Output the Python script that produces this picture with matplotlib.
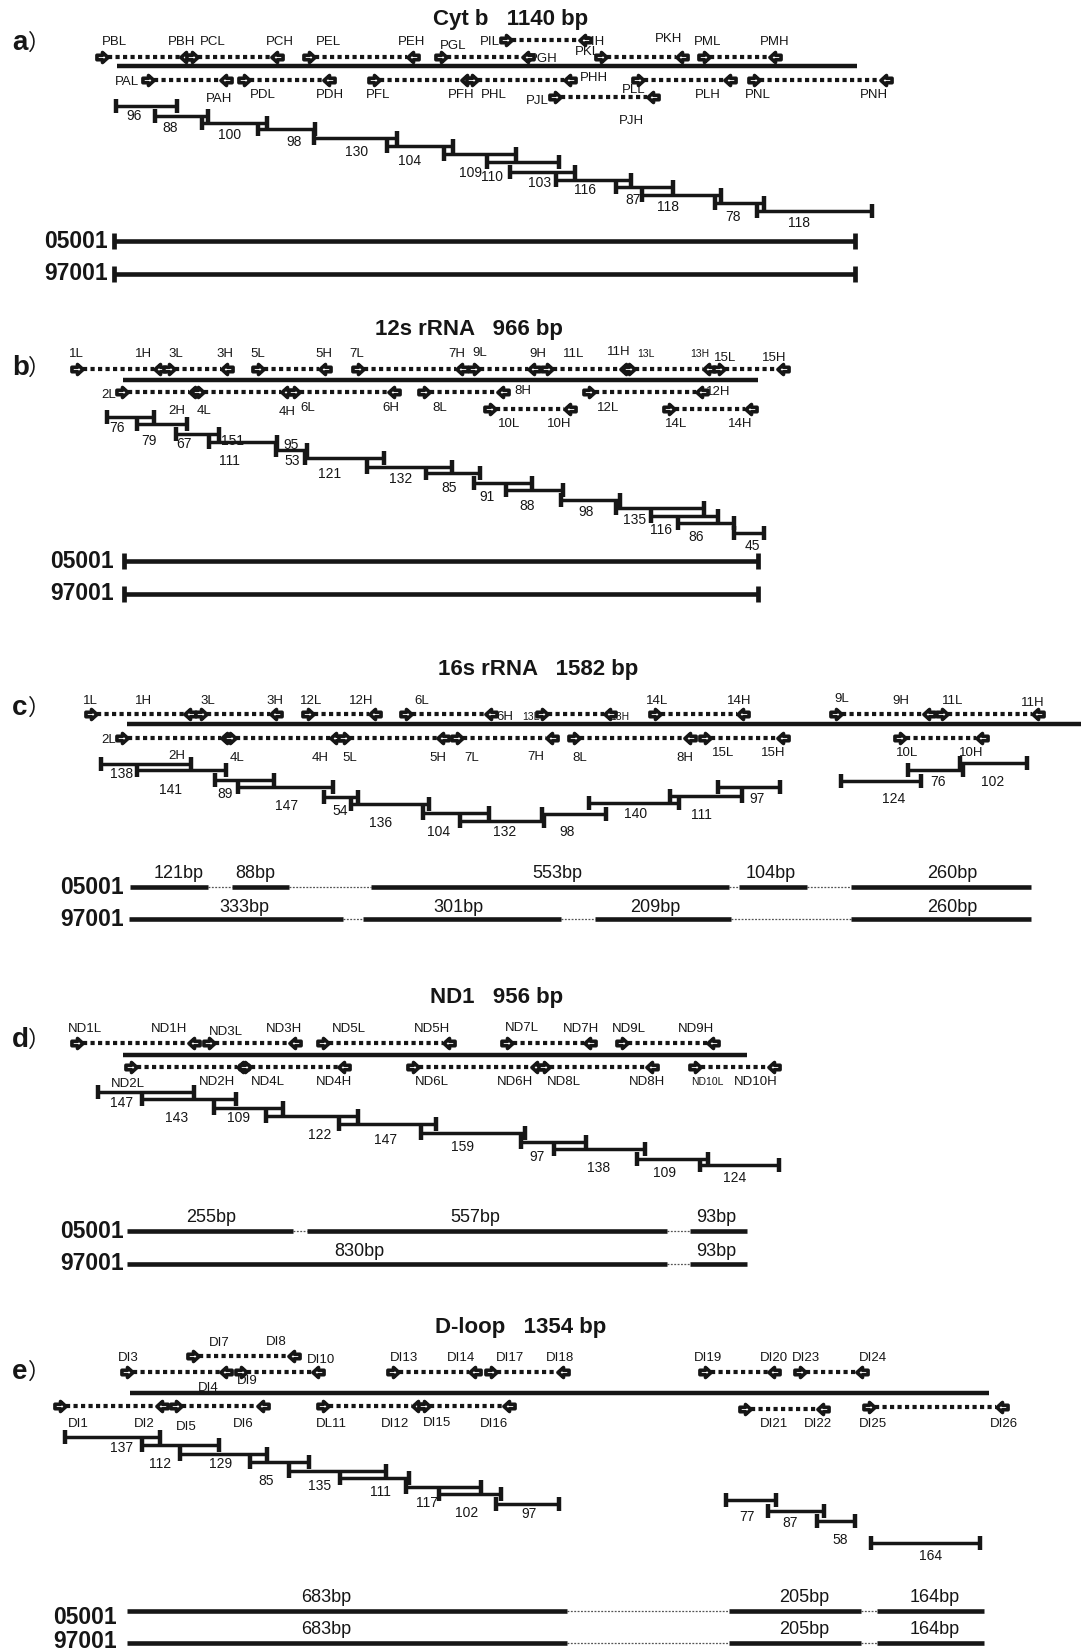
import matplotlib.pyplot as plt
from matplotlib.path import Path

plt.rcParams['font.family'] = ['Liberation Sans', 'DejaVu Sans']

W, H = 1081, 1652

# ---------------- panel a : Cyt b ----------------
a_title = ("Cyt b   1140 bp", 511, 20)
a_gene = (117, 857, 66)
# forward primer x, reverse primer x, row y
a_primers = [(102, 186, 57), (192, 277, 57), (309, 413, 57), (441, 528, 57),
             (601, 682, 57), (704, 775, 57), (506, 585, 40),
             (148, 226, 80), (244, 329, 80), (374, 467, 80), (472, 570, 80),
             (638, 730, 80), (754, 886, 80), (555, 653, 97)]
a_names = [("PBL", 102, 42), ("PBH", 168, 42), ("PCL", 200, 42), ("PCH", 266, 42),
           ("PEL", 316, 42), ("PEH", 398, 42), ("PGL", 440, 46), ("PGH", 529, 59),
           ("PKL", 575, 52), ("PKH", 655, 39), ("PML", 694, 42), ("PMH", 760, 42),
           ("PIL", 480, 42), ("PIH", 583, 42), ("PAL", 115, 82), ("PAH", 206, 99),
           ("PDL", 250, 95), ("PDH", 316, 95), ("PFL", 366, 95), ("PFH", 448, 95),
           ("PHL", 481, 95), ("PHH", 580, 78), ("PLL", 622, 90), ("PLH", 695, 95),
           ("PNL", 745, 95), ("PNH", 860, 95), ("PJL", 526, 101), ("PJH", 619, 121)]
# fragment start, end, y, size label, label x, label y
a_frags = [(116, 177, 106, "96", 134, 116), (155, 208, 116, "88", 170, 128),
           (202, 267, 123, "100", 230, 135), (258, 315, 129, "98", 294, 142),
           (314, 397, 138, "130", 357, 152), (387, 453, 146, "104", 410, 161),
           (444, 516, 154, "109", 470, 173), (487, 559, 162, "110", 492, 177),
           (510, 575, 172, "103", 540, 183), (556, 631, 180, "116", 585, 190),
           (616, 673, 187, "87", 633, 200), (642, 721, 195, "118", 668, 207),
           (715, 764, 203, "78", 733, 217), (757, 872, 211, "118", 799, 223)]
a_extra = []
a_samples = [("05001", 241, 241, [(114, 855)], [], 0),
             ("97001", 274, 274, [(114, 855)], [], 0)]

# ---------------- panel b : 12s rRNA ----------------
b_title = ("12s rRNA   966 bp", 469, 329)
b_gene = (123, 758, 380)
b_primers = [(77, 160, 369), (169, 227, 369), (258, 325, 369), (358, 462, 369),
             (474, 534, 369), (547, 626, 369), (629, 709, 369), (719, 783, 369),
             (122, 195, 392), (198, 287, 392), (294, 394, 392), (424, 503, 392),
             (589, 702, 392), (490, 570, 409), (669, 751, 409)]
b_names = [("1L", 69, 354), ("1H", 135, 354), ("3L", 168, 354), ("3H", 216, 354),
           ("5L", 250, 354), ("5H", 315, 354), ("7L", 349, 354), ("7H", 448, 354),
           ("9L", 472, 353), ("9H", 529, 354), ("11L", 563, 354), ("11H", 607, 352),
           ("13L", 637, 354), ("13H", 690, 354), ("15L", 714, 358), ("15H", 762, 358),
           ("2L", 101, 395), ("2H", 168, 411), ("4L", 197, 411), ("4H", 279, 412),
           ("6L", 300, 408), ("6H", 382, 408), ("8L", 432, 408), ("8H", 514, 391),
           ("12L", 597, 408), ("12H", 706, 392), ("10L", 498, 424), ("10H", 547, 424),
           ("14L", 665, 424), ("14H", 728, 424)]
b_frags = [(107, 154, 417, "76", 117, 428), (137, 187, 424, "79", 149, 441),
           (176, 219, 434, "67", 184, 444), (209, 277, 442, "151", 233, 441),
           (276, 307, 450, "53", 292, 461), (305, 384, 458, "121", 330, 474),
           (367, 452, 467, "132", 401, 479), (426, 480, 473, "85", 449, 488),
           (474, 532, 483, "91", 487, 497), (506, 563, 490, "88", 527, 506),
           (561, 620, 500, "98", 586, 512), (616, 704, 508, "135", 635, 520),
           (651, 718, 516, "116", 661, 530), (678, 734, 523, "86", 696, 537),
           (734, 764, 533, "45", 752, 546)]
b_extra = [("111", 229, 461), ("95", 291, 445)]
b_samples = [("05001", 561, 561, [(124, 758)], [], 0),
             ("97001", 594, 594, [(124, 758)], [], 0)]

# ---------------- panel c : 16s rRNA ----------------
c_title = ("16s rRNA   1582 bp", 538, 670)
c_gene = (127, 1081, 724)
c_primers = [(91, 190, 714), (201, 276, 714), (308, 375, 714), (406, 491, 714),
             (542, 610, 714), (655, 743, 714), (836, 929, 714), (942, 1038, 714),
             (122, 227, 738), (230, 336, 738), (344, 443, 738), (457, 552, 738),
             (574, 690, 738), (705, 783, 738), (900, 982, 738)]
c_names = [("1L", 83, 701), ("1H", 135, 701), ("3L", 200, 701), ("3H", 266, 701),
           ("12L", 300, 701), ("12H", 349, 701), ("6L", 414, 701), ("6H", 496, 717),
           ("13L", 522, 717), ("13H", 610, 717), ("14L", 646, 701), ("14H", 727, 701),
           ("9L", 834, 699), ("9H", 892, 701), ("11L", 942, 701), ("11H", 1021, 703),
           ("2L", 101, 740), ("2H", 168, 756), ("4L", 230, 758), ("4H", 312, 758),
           ("5L", 342, 758), ("5H", 429, 758), ("7L", 464, 758), ("7H", 527, 757),
           ("8L", 572, 758), ("8H", 676, 758), ("15L", 712, 753), ("15H", 761, 753),
           ("10L", 896, 753), ("10H", 959, 753)]
c_frags = [(101, 191, 764, "138", 122, 774), (137, 226, 770, "141", 171, 790),
           (215, 274, 780, "89", 225, 794), (238, 333, 787, "147", 287, 806),
           (324, 358, 797, "54", 340, 811), (351, 429, 804, "136", 381, 823),
           (423, 489, 813, "104", 439, 832), (460, 544, 821, "132", 505, 832),
           (542, 606, 814, "98", 567, 832), (589, 679, 803, "140", 636, 814),
           (670, 742, 796, "111", 701, 815), (718, 780, 787, "97", 757, 799),
           (841, 921, 781, "124", 894, 799), (908, 963, 770, "76", 938, 782),
           (960, 1027, 763, "102", 993, 782)]
c_extra = []
c_samples = [("05001", 887, 887,
              [(130, 208), (232, 289), (371, 729), (739, 807), (851, 1031)],
              [("121bp", 179), ("88bp", 255), ("553bp", 557), ("104bp", 771), ("260bp", 952)], 873),
             ("97001", 919, 919,
              [(129, 343), (363, 561), (595, 731), (851, 1031)],
              [("333bp", 244), ("301bp", 458), ("209bp", 655), ("260bp", 952)], 907)]

# ---------------- panel d : ND1 ----------------
d_title = ("ND1   956 bp", 497, 998)
d_gene = (123, 747, 1055)
d_primers = [(77, 194, 1043), (209, 295, 1043), (323, 449, 1043), (507, 590, 1043),
             (622, 713, 1043), (131, 243, 1067), (245, 344, 1067), (413, 537, 1067),
             (544, 652, 1067), (695, 774, 1067)]
d_names = [("ND1L", 68, 1029), ("ND1H", 151, 1029), ("ND3L", 209, 1032), ("ND3H", 266, 1029),
           ("ND5L", 332, 1029), ("ND5H", 414, 1029), ("ND7L", 505, 1028), ("ND7H", 563, 1029),
           ("ND9L", 612, 1029), ("ND9H", 678, 1029), ("ND2L", 111, 1084), ("ND2H", 199, 1082),
           ("ND4L", 251, 1082), ("ND4H", 316, 1082), ("ND6L", 415, 1082), ("ND6H", 497, 1082),
           ("ND8L", 547, 1082), ("ND8H", 629, 1082), ("ND10L", 691, 1082), ("ND10H", 734, 1082)]
d_frags = [(98, 194, 1092, "147", 122, 1103), (142, 236, 1099, "143", 177, 1118),
           (214, 283, 1108, "109", 238, 1118), (266, 358, 1116, "122", 320, 1135),
           (339, 436, 1124, "147", 386, 1140), (421, 525, 1133, "159", 463, 1147),
           (521, 586, 1142, "97", 537, 1157), (554, 645, 1149, "138", 599, 1168),
           (637, 708, 1159, "109", 665, 1173), (700, 779, 1165, "124", 735, 1178)]
d_extra = []
d_samples = [("05001", 1231, 1231, [(127, 293), (307, 667), (690, 747)],
              [("255bp", 211), ("557bp", 475), ("93bp", 716)], 1218),
             ("97001", 1264, 1264, [(127, 667), (690, 747)],
              [("830bp", 359), ("93bp", 716)], 1252)]

# ---------------- panel e : D-loop ----------------
e_title = ("D-loop   1354 bp", 521, 1328)
e_gene = (130, 989, 1393)
e_primers = [(127, 226, 1372), (193, 294, 1356), (241, 318, 1372), (393, 475, 1372),
             (491, 563, 1372), (705, 774, 1372), (800, 862, 1372),
             (60, 162, 1406), (176, 263, 1406), (323, 418, 1406), (424, 509, 1406),
             (745, 823, 1409), (869, 1002, 1407)]
e_names = [("DI3", 118, 1358), ("DI4", 198, 1388), ("DI7", 209, 1343), ("DI8", 266, 1342),
           ("DI9", 237, 1381), ("DI10", 307, 1360), ("DI13", 390, 1358), ("DI14", 447, 1358),
           ("DI17", 496, 1358), ("DI18", 546, 1358), ("DI19", 694, 1358), ("DI20", 760, 1358),
           ("DI23", 792, 1358), ("DI24", 859, 1358), ("DI1", 68, 1424), ("DI2", 134, 1424),
           ("DI5", 176, 1427), ("DI6", 233, 1424), ("DL11", 316, 1424), ("DI12", 381, 1424),
           ("DI15", 423, 1423), ("DI16", 480, 1424), ("DI21", 760, 1424), ("DI22", 804, 1424),
           ("DI25", 859, 1424), ("DI26", 990, 1424)]
e_frags = [(65, 160, 1437, "137", 122, 1448), (142, 219, 1445, "112", 160, 1464),
           (180, 267, 1454, "129", 221, 1464), (250, 309, 1462, "85", 266, 1481),
           (289, 386, 1471, "135", 320, 1486), (340, 409, 1478, "111", 380, 1492),
           (406, 481, 1487, "117", 427, 1503), (439, 501, 1494, "102", 467, 1513),
           (496, 559, 1504, "97", 529, 1514), (726, 776, 1500, "77", 747, 1517),
           (768, 824, 1511, "87", 790, 1523), (817, 855, 1521, "58", 840, 1540),
           (871, 980, 1543, "164", 931, 1556)]
e_extra = []
e_samples = [("05001", 1611, 1618, [(127, 567), (729, 861), (877, 984)],
              [("683bp", 326), ("205bp", 804), ("164bp", 935)], 1597),
             ("97001", 1643, 1642, [(127, 567), (729, 861), (877, 984)],
              [("683bp", 326), ("205bp", 804), ("164bp", 935)], 1630)]

panel_letters = [("a", 43), ("b", 368), ("c", 708), ("d", 1040), ("e", 1372)]
name_right = [108, 114, 124, 124, 117]
small_names = {"13L", "13H", "ND10L"}

INK = '#161616'

# arrow head markers for the primers
_codes = [Path.MOVETO] + [Path.LINETO] * 6 + [Path.CLOSEPOLY]
_pts = [(-1, -0.4), (0.0, -0.4), (0.0, -0.9), (1, 0), (0.0, 0.9),
        (0.0, 0.4), (-1, 0.4), (-1, -0.4)]
ARROW_R = Path(_pts, _codes)
ARROW_L = Path([(-x, y) for x, y in _pts], _codes)

fig = plt.figure(figsize=(W / 100, H / 100), dpi=100)
ax = fig.add_axes([0, 0, 1, 1])
ax.set_xlim(0, W)
ax.set_ylim(H, 0)
ax.axis('off')


def draw_panel(title, gene, primers, names, frags, extra, samples, nright, capped):
    ax.text(title[1], title[2], title[0], ha='center', va='center',
            fontsize=16, fontweight='bold', color=INK)
    ax.plot([gene[0], gene[1]], [gene[2], gene[2]], color=INK, lw=3.2,
            solid_capstyle='butt', zorder=3)

    for x1, x2, y in primers:
        ax.plot([x1 + 6, x2 - 6], [y, y], color=INK, lw=3.0,
                linestyle=(0, (1.0, 0.8)), dash_capstyle='butt', zorder=3)
        ax.plot([x1], [y], marker=ARROW_R, ms=8, mfc='white', mec=INK, mew=2.6,
                linestyle='none', zorder=4)
        ax.plot([x2], [y], marker=ARROW_L, ms=8, mfc='white', mec=INK, mew=2.6,
                linestyle='none', zorder=4)
    for name, x, y in names:
        fs = 7.5 if name in small_names else 9.5
        ax.text(x, y, name, ha='left', va='center', fontsize=fs, color=INK, zorder=2)

    for x1, x2, y, lbl, lx, ly in frags:
        ax.plot([x1, x2], [y, y], color=INK, lw=2.5, solid_capstyle='butt', zorder=3)
        ax.plot([x1, x1], [y - 7, y + 7], color=INK, lw=3.2, solid_capstyle='butt', zorder=3)
        ax.plot([x2, x2], [y - 7, y + 7], color=INK, lw=3.2, solid_capstyle='butt', zorder=3)
        ax.text(lx, ly, lbl, ha='center', va='center', fontsize=10, color=INK, zorder=2)
    for lbl, lx, ly in extra:
        ax.text(lx, ly, lbl, ha='center', va='center', fontsize=10, color=INK, zorder=2)

    for sname, ly, ny, segs, bps, by in samples:
        ax.text(nright, ny, sname, ha='right', va='center', fontsize=16.5,
                fontweight='bold', color=INK)
        for i, (s0, s1) in enumerate(segs):
            ax.plot([s0, s1], [ly, ly], color=INK, lw=3.3, solid_capstyle='butt', zorder=3)
            if i + 1 < len(segs):
                ax.plot([s1, segs[i + 1][0]], [ly, ly], color='#555555', lw=0.9,
                        linestyle=(0, (1.5, 1.2)), zorder=2)
        if capped:
            for xc in (segs[0][0], segs[-1][1]):
                ax.plot([xc, xc], [ly - 8, ly + 8], color=INK, lw=3.4,
                        solid_capstyle='butt', zorder=3)
        for txt, bx in bps:
            ax.text(bx, by, txt, ha='center', va='center', fontsize=13, color=INK)


draw_panel(a_title, a_gene, a_primers, a_names, a_frags, a_extra, a_samples, name_right[0], True)
draw_panel(b_title, b_gene, b_primers, b_names, b_frags, b_extra, b_samples, name_right[1], True)
draw_panel(c_title, c_gene, c_primers, c_names, c_frags, c_extra, c_samples, name_right[2], False)
draw_panel(d_title, d_gene, d_primers, d_names, d_frags, d_extra, d_samples, name_right[3], False)
draw_panel(e_title, e_gene, e_primers, e_names, e_frags, e_extra, e_samples, name_right[4], False)

for letter, y in panel_letters:
    ax.text(12, y, letter, ha='left', va='center', fontsize=20, fontweight='bold', color=INK)
    ax.text(28, y, "）", ha='left', va='center', fontsize=16, color=INK,
            family=['Noto Sans CJK SC', 'DejaVu Sans'])

fig.savefig('out.png', dpi=100, facecolor='white')
